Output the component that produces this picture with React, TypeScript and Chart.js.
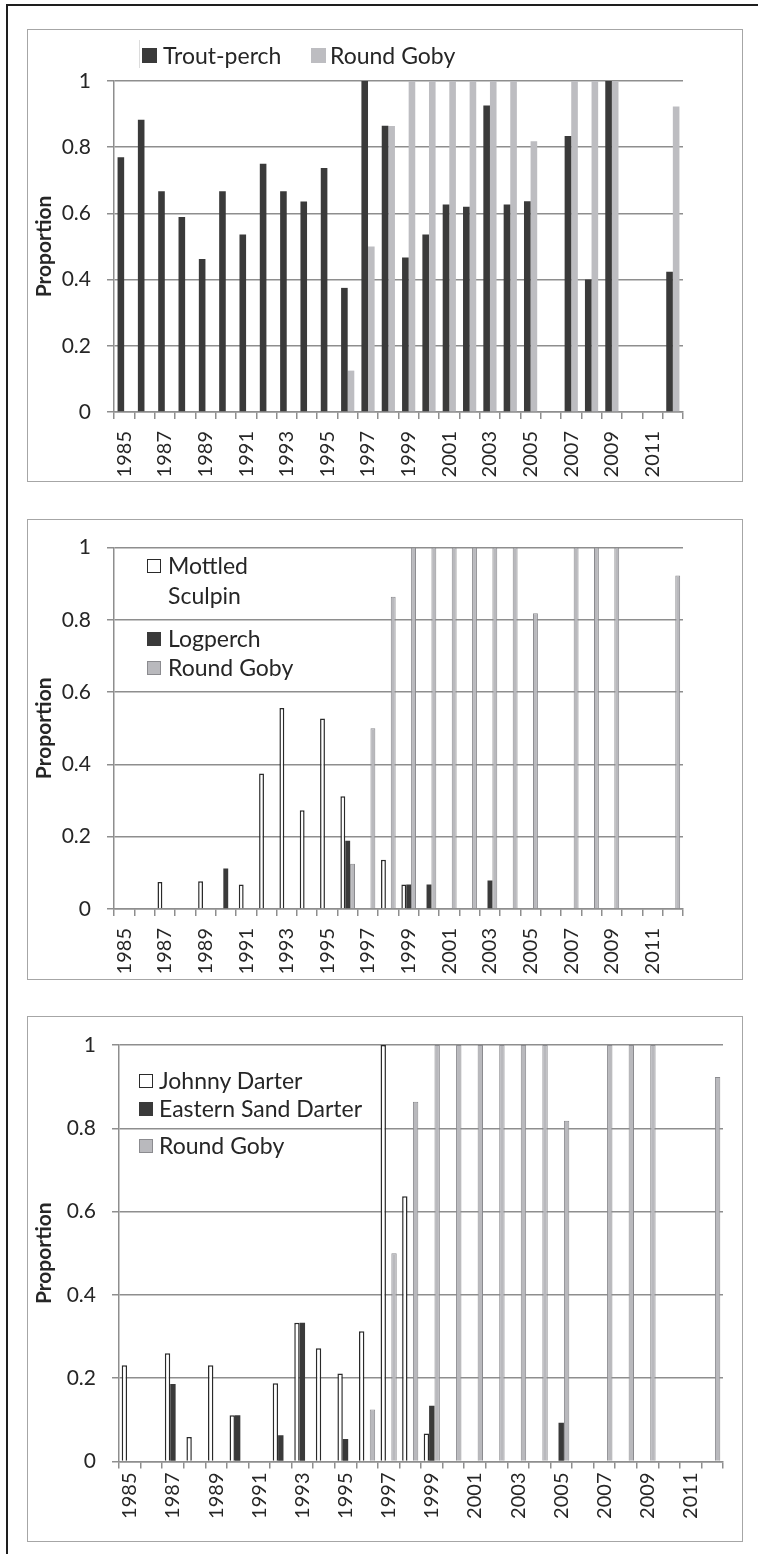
import React, { useEffect, useRef } from "react";
import { Chart, registerables } from "chart.js";

Chart.register(...registerables);
Chart.defaults.font.family = "Lato, 'Noto Sans', sans-serif";

// ---------- data ----------
const years = [
  "1985", "1986", "1987", "1988", "1989", "1990", "1991", "1992", "1993", "1994",
  "1995", "1996", "1997", "1998", "1999", "2000", "2001", "2002", "2003", "2004",
  "2005", "2006", "2007", "2008", "2009", "2010", "2011", "2012",
];
const xTickLabels = [
  "1985", "", "1987", "", "1989", "", "1991", "", "1993", "",
  "1995", "", "1997", "", "1999", "", "2001", "", "2003", "",
  "2005", "", "2007", "", "2009", "", "2011", "",
];
const yTicks = [0, 0.2, 0.4, 0.6, 0.8, 1];

const troutPerch = [
  0.77, 0.883, 0.667, 0.589, 0.462, 0.667, 0.536, 0.75, 0.667, 0.636,
  0.737, 0.375, 1.0, 0.865, 0.467, 0.536, 0.627, 0.62, 0.926, 0.627,
  0.637, null, 0.834, 0.4, 1.0, null, null, 0.424,
];
const roundGoby = [
  null, null, null, null, null, null, null, null, null, null,
  null, 0.125, 0.5, 0.864, 1, 1, 1, 1, 1, 1,
  0.818, null, 1, 1, 1, null, null, 0.923,
];
const mottledSculpin = [
  null, null, 0.075, null, 0.077, null, 0.068, 0.375, 0.556, 0.273,
  0.527, 0.312, null, 0.136, 0.068, null, null, null, null, null,
  null, null, null, null, null, null, null, null,
];
const logperch = [
  null, null, null, null, null, 0.112, null, null, null, null,
  null, 0.189, null, null, 0.068, 0.068, null, null, 0.079, null,
  null, null, null, null, null, null, null, null,
];
const johnnyDarter = [
  0.231, null, 0.26, 0.059, 0.231, 0.111, null, 0.188, 0.333, 0.272,
  0.211, 0.313, 1.0, 0.637, 0.067, null, null, null, null, null,
  null, null, null, null, null, null, null, null,
];
const easternSandDarter = [
  null, null, 0.186, null, null, 0.111, null, 0.063, 0.333, null,
  0.054, null, null, null, 0.134, null, null, null, null, null,
  0.093, null, null, null, null, null, null, null,
];

// ---------- styles ----------
const GRID = "#8e8e8e";
const TXT = "#262626";
const DARK = "#3a3a3a";
const GOBY_LIGHT = "#bdbdc1";
const GOBY_FILL = "#b9b9bd";
const GOBY_BORDER = "#8b8b8f";
const BOX = "#a6a6a6";

type PanelCfg = {
  left: number;
  top: number;
  width: number;
  height: number;
  axisW: number;
  axisH: number;
  padT: number;
  padR: number;
  labelPad: number;
  catPct: number;
  datasets: any[];
};

function ChartPanel({ cfg }: { cfg: PanelCfg }) {
  const ref = useRef<HTMLCanvasElement | null>(null);
  useEffect(() => {
    if (!ref.current) return;
    const chart = new Chart(ref.current, {
      type: "bar",
      data: { labels: years, datasets: cfg.datasets },
      options: {
        responsive: false,
        maintainAspectRatio: false,
        animation: false,
        devicePixelRatio: 1,
        layout: { padding: { left: 0, top: cfg.padT, right: cfg.padR, bottom: 0 } },
        plugins: { legend: { display: false }, tooltip: { enabled: false } },
        datasets: { bar: { categoryPercentage: cfg.catPct, barPercentage: 1 } },
        scales: {
          x: {
            type: "category",
            offset: true,
            grid: {
              offset: true,
              drawOnChartArea: false,
              drawTicks: true,
              tickLength: 7,
              color: GRID,
              lineWidth: 1.5,
            },
            border: { display: true, color: GRID, width: 1.5 },
            ticks: {
              autoSkip: false,
              minRotation: 90,
              maxRotation: 90,
              padding: cfg.labelPad,
              color: TXT,
              font: { size: 20 },
              callback: (_v: any, i: number) => xTickLabels[i],
            },
            afterFit: (s: any) => {
              s.height = cfg.axisH;
            },
          },
          y: {
            min: 0,
            max: 1,
            afterBuildTicks: (s: any) => {
              s.ticks = yTicks.map((v) => ({ value: v }));
            },
            grid: { color: GRID, lineWidth: 1.5, tickLength: 7, drawTicks: true },
            border: { display: true, color: GRID, width: 1.5 },
            ticks: {
              padding: 16,
              color: TXT,
              font: { size: 21 },
              callback: (v: any) => String(v),
            },
            title: {
              display: true,
              text: "Proportion",
              color: TXT,
              font: { size: 21, weight: "bold" },
              padding: { top: 5, bottom: 0 },
            },
            afterFit: (s: any) => {
              s.width = cfg.axisW;
            },
          },
        },
      } as any,
    });
    return () => chart.destroy();
  }, []);
  return (
    <>
      <canvas
        ref={ref}
        width={cfg.width}
        height={cfg.height}
        style={{
          position: "absolute",
          left: cfg.left,
          top: cfg.top,
          width: cfg.width,
          height: cfg.height,
        }}
      />
      <div
        style={{
          position: "absolute",
          left: cfg.left,
          top: cfg.top,
          width: cfg.width,
          height: cfg.height,
          boxSizing: "border-box",
          border: `1.5px solid ${BOX}`,
          pointerEvents: "none",
        }}
      />
    </>
  );
}

const LEG_FONT = 23;
function LegText({ x, cy, text }: { x: number; cy: number; text: string }) {
  return (
    <div
      style={{
        position: "absolute",
        left: x,
        top: cy - 14.7,
        fontFamily: "Lato, 'Noto Sans', sans-serif",
        fontSize: LEG_FONT,
        lineHeight: "28px",
        color: TXT,
        whiteSpace: "nowrap",
      }}
    >
      {text}
    </div>
  );
}
function Marker({
  x,
  y,
  size,
  fill,
  border,
}: {
  x: number;
  y: number;
  size: number;
  fill: string;
  border?: string;
}) {
  return (
    <div
      style={{
        position: "absolute",
        left: x,
        top: y,
        width: size,
        height: size,
        boxSizing: "border-box",
        background: fill,
        border: border ? `1.5px solid ${border}` : "none",
      }}
    />
  );
}

const panel1: PanelCfg = {
  left: 27,
  top: 29,
  width: 716,
  height: 453,
  axisW: 87,
  axisH: 70,
  padT: 52,
  padR: 60,
  labelPad: 12,
  catPct: 0.65,
  datasets: [
    { label: "Trout-perch", data: troutPerch, backgroundColor: DARK, borderWidth: 0 },
    { label: "Round Goby", data: roundGoby, backgroundColor: GOBY_LIGHT, borderWidth: 0 },
  ],
};

const panel2: PanelCfg = {
  left: 27,
  top: 519,
  width: 716,
  height: 461,
  axisW: 87,
  axisH: 71,
  padT: 25,
  padR: 60,
  labelPad: 12,
  catPct: 0.72,
  datasets: [
    {
      label: "Mottled Sculpin",
      data: mottledSculpin,
      backgroundColor: "#ffffff",
      borderColor: "#2a2a2a",
      borderWidth: 1.5,
    },
    { label: "Logperch", data: logperch, backgroundColor: DARK, borderWidth: 0 },
    {
      label: "Round Goby",
      data: roundGoby,
      backgroundColor: GOBY_FILL,
      borderColor: GOBY_BORDER,
      borderWidth: 1,
    },
  ],
};

const panel3: PanelCfg = {
  left: 27,
  top: 1016,
  width: 716,
  height: 526,
  axisW: 92,
  axisH: 80.5,
  padT: 29,
  padR: 20,
  labelPad: 4,
  catPct: 0.75,
  datasets: [
    {
      label: "Johnny Darter",
      data: johnnyDarter,
      backgroundColor: "#ffffff",
      borderColor: "#2a2a2a",
      borderWidth: 1.5,
    },
    { label: "Eastern Sand Darter", data: easternSandDarter, backgroundColor: DARK, borderWidth: 0 },
    {
      label: "Round Goby",
      data: roundGoby,
      backgroundColor: GOBY_FILL,
      borderColor: GOBY_BORDER,
      borderWidth: 1,
    },
  ],
};

export default function App() {
  return (
    <div
      style={{
        position: "absolute",
        left: 0,
        top: 0,
        width: 758,
        height: 1554,
        background: "#ffffff",
        overflow: "hidden",
      }}
    >
      {/* outer frame (top and left edges) */}
      <div
        style={{
          position: "absolute",
          left: 6,
          top: 4,
          width: 760,
          height: 1560,
          borderTop: "2px solid #1e1e1e",
          borderLeft: "2px solid #1e1e1e",
        }}
      />

      <ChartPanel cfg={panel1} />
      <ChartPanel cfg={panel2} />
      <ChartPanel cfg={panel3} />

      {/* panel 1 legend */}
      <div style={{ position: "absolute", left: 139, top: 40, width: 1, height: 28, background: "#dcdcdc" }} />
      <Marker x={142} y={48} size={15} fill={DARK} />
      <LegText x={163} cy={55.5} text="Trout-perch" />
      <Marker x={311} y={48} size={15} fill={GOBY_LIGHT} />
      <LegText x={330} cy={55.5} text="Round Goby" />

      {/* panel 2 legend */}
      <Marker x={147} y={559} size={14} fill="#ffffff" border="#2a2a2a" />
      <LegText x={168} cy={565.5} text="Mottled" />
      <LegText x={168} cy={596} text="Sculpin" />
      <Marker x={147} y={632} size={14} fill={DARK} />
      <LegText x={168} cy={638.5} text="Logperch" />
      <Marker x={147} y={661} size={14} fill={GOBY_FILL} border={GOBY_BORDER} />
      <LegText x={168} cy={668} text="Round Goby" />

      {/* panel 3 legend */}
      <Marker x={139} y={1073.5} size={14} fill="#ffffff" border="#2a2a2a" />
      <LegText x={159} cy={1080.5} text="Johnny Darter" />
      <Marker x={139} y={1102} size={14} fill={DARK} />
      <LegText x={159} cy={1109} text="Eastern Sand Darter" />
      <Marker x={139} y={1138.5} size={14} fill={GOBY_FILL} border={GOBY_BORDER} />
      <LegText x={159} cy={1145.5} text="Round Goby" />
    </div>
  );
}
